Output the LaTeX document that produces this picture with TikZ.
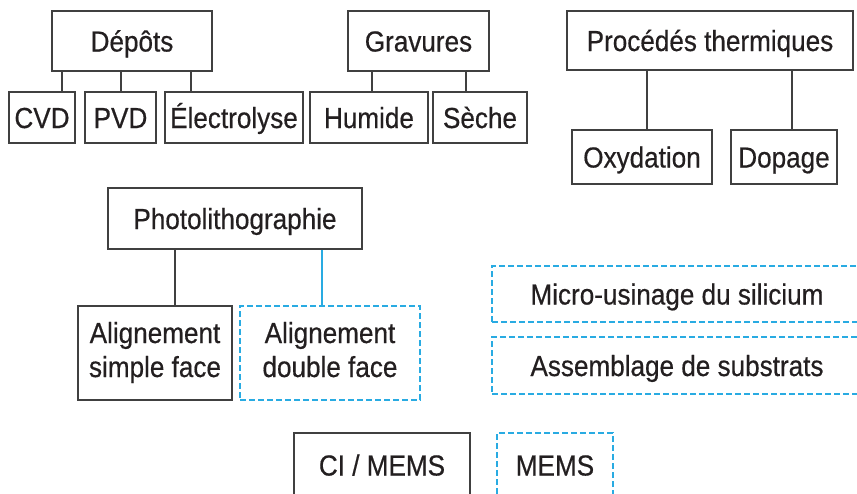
\documentclass[tikz,border=0pt]{standalone}
\usepackage{fontspec}
\setmainfont{Liberation Sans}[FakeStretch=0.9, FakeBold=0.5]
\definecolor{ink}{HTML}{231F20}
\definecolor{frame}{HTML}{404040}
\definecolor{mems}{HTML}{29ABE2}
\begin{document}
\begin{tikzpicture}[x=1pt,y=-1pt,
  boxbase/.style={draw=frame, line width=1.6pt, inner sep=0pt, text=ink,
    font=\fontsize{29}{34}\selectfont},
  box/.style={boxbase, text height=21pt, text depth=0pt},
  twoline/.style={boxbase, align=center, text height=55pt, text depth=7pt},
  memdash/.style={draw=mems, dash pattern=on 6pt off 3pt},
  membox/.style={box, memdash},
  link/.style={draw=frame, line width=1.6pt},
  memlink/.style={draw=mems, line width=1.6pt}]
\useasboundingbox (0,0) rectangle (857,493);
\clip (0,0) rectangle (857,493);

% Dépôts
\node[box, minimum width=160, minimum height=60] (dep) at (132,41) {Dépôts};
\node[box, minimum width=66, minimum height=51] (cvd) at (42,117.5) {CVD};
\node[box, minimum width=71, minimum height=51] (pvd) at (120.5,117.5) {PVD};
\node[box, minimum width=138, minimum height=51] (ele) at (234,117.5) {Électrolyse};
\coordinate (k1) at (62,0);
\coordinate (k2) at (121,0);
\coordinate (k3) at (191,0);
\draw[link] (k1 |- dep.south) -- (k1 |- cvd.north);
\draw[link] (k2 |- dep.south) -- (k2 |- pvd.north);
\draw[link] (k3 |- dep.south) -- (k3 |- ele.north);

% Gravures
\node[box, minimum width=141, minimum height=60] (grav) at (418.5,41) {Gravures};
\node[box, minimum width=118, minimum height=51] (hum) at (369,117.5) {Humide};
\node[box, minimum width=94, minimum height=51] (sec) at (480,117.5) {Sèche};
\coordinate (k4) at (372,0);
\coordinate (k5) at (466,0);
\draw[link] (k4 |- grav.south) -- (k4 |- hum.north);
\draw[link] (k5 |- grav.south) -- (k5 |- sec.north);

% Procédés thermiques
\node[box, minimum width=286, minimum height=59] (therm) at (710,40.5) {Procédés thermiques};
\node[box, minimum width=140, minimum height=54] (oxy) at (642,157) {Oxydation};
\node[box, minimum width=106, minimum height=54] (dop) at (784,157) {Dopage};
\coordinate (k6) at (647,0);
\coordinate (k7) at (792,0);
\draw[link] (k6 |- therm.south) -- (k6 |- oxy.north);
\draw[link] (k7 |- therm.south) -- (k7 |- dop.north);

% Photolithographie
\node[box, minimum width=254, minimum height=61] (photo) at (235,218.5) {Photolithographie};
\node[twoline, minimum width=154, minimum height=94] (simple) at (155,353) {Alignement\\simple face};
\node[twoline, memdash, minimum width=180, minimum height=94] (double) at (330,353) {Alignement\\double face};
\coordinate (k8) at (175,0);
\coordinate (k9) at (322,0);
\draw[link] (k8 |- photo.south) -- (k8 |- simple.north);
\draw[memlink] (k9 |- photo.south) -- (k9 |- double.north);

% Étapes propres aux MEMS
\node[membox, minimum width=370, minimum height=56] (micro) at (677,294) {Micro-usinage du silicium};
\node[membox, minimum width=370, minimum height=57] (assem) at (677,365.5) {Assemblage de substrats};

% Légende
\node[box, minimum width=176, minimum height=64] (ci) at (382,465) {CI / MEMS};
\node[membox, minimum width=116, minimum height=64] (mm) at (555,465) {MEMS};
\end{tikzpicture}
\end{document}
